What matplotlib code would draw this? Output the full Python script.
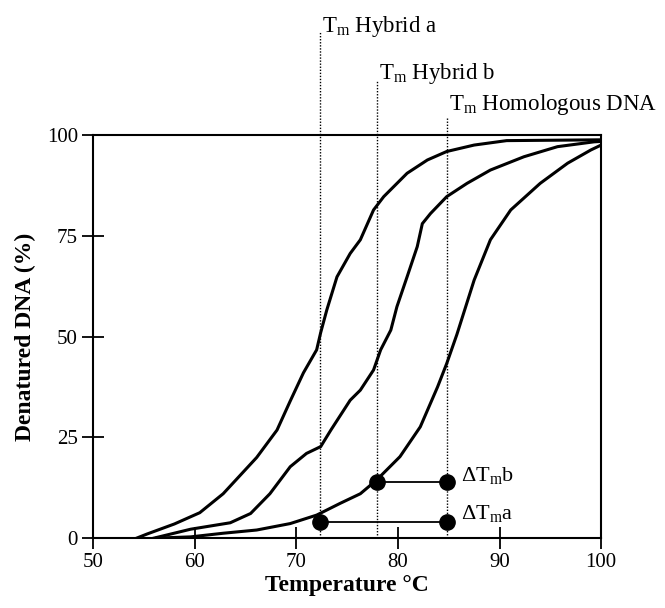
import numpy as np
import matplotlib
matplotlib.use("Agg")
import matplotlib.pyplot as plt

plt.rcParams["font.family"] = ["Liberation Serif", "DejaVu Serif"]
plt.rcParams["mathtext.fontset"] = "custom"
plt.rcParams["mathtext.rm"] = "Liberation Serif"
plt.rcParams["mathtext.it"] = "Liberation Serif:italic"

# curve data (temperature in C, denatured DNA in %)
hyb_a_x = [54.3, 55.3, 58.0, 60.5, 62.8, 66.1, 68.1, 69.4, 70.7, 72.0, 72.4,
           73.0, 74.0, 75.3, 76.3, 77.6, 78.6, 80.9, 82.9, 84.8, 87.5, 90.7, 100.0]
hyb_a_y = [0.0, 1.0, 3.5, 6.3, 11.0, 20.0, 26.8, 34.0, 41.0, 46.7, 51.0,
           56.6, 64.8, 70.6, 74.0, 81.4, 84.7, 90.5, 93.8, 95.9, 97.5, 98.6, 98.8]

hyb_b_x = [56.0, 59.6, 63.5, 65.5, 67.4, 69.4, 71.0, 72.4, 73.4, 75.3, 76.3,
           77.6, 78.3, 79.3, 79.9, 80.9, 81.9, 82.4, 83.2, 84.8, 86.8, 89.1,
           92.4, 95.7, 99.3, 100.0]
hyb_b_y = [0.0, 2.2, 3.8, 6.1, 11.0, 17.7, 21.0, 22.7, 26.8, 34.2, 36.7,
           41.7, 46.7, 51.6, 57.4, 64.8, 72.3, 78.0, 80.5, 84.7, 88.0, 91.3,
           94.6, 97.1, 98.3, 98.4]

homo_x = [56.3, 59.6, 62.8, 66.1, 69.4, 72.0, 74.3, 76.3, 77.9, 80.2, 82.2,
          83.9, 84.8, 85.8, 87.5, 89.1, 91.1, 94.0, 96.7, 99.0, 100.0]
homo_y = [0.0, 0.3, 1.2, 2.0, 3.6, 5.7, 8.6, 11.0, 14.4, 20.2, 27.6,
          37.5, 43.3, 50.5, 64.0, 74.0, 81.4, 88.0, 93.0, 96.3, 97.5]

# melting temperatures and delta Tm markers
tm_a = 72.3
tm_b = 77.9
tm_homo = 84.8
tm_labels = ["T$_\\mathrm{m}$ Hybrid a", "T$_\\mathrm{m}$ Hybrid b",
             "T$_\\mathrm{m}$ Homologous DNA"]
delta_a_y = 4
delta_b_y = 14

fig = plt.figure(figsize=(6.65, 6.08), dpi=100)
ax = fig.add_axes([0.14, 0.115, 0.764, 0.663])

for xs, ys in [(hyb_a_x, hyb_a_y), (hyb_b_x, hyb_b_y), (homo_x, homo_y)]:
    ax.plot(xs, ys, color="black", lw=2.2, solid_joinstyle="miter")

# dotted Tm lines reaching above the frame
line_tops = [125.6, 113.6, 104.5]
text_base = [125.6, 113.9, 106.2]
for tm, top, tb, lab in zip([tm_a, tm_b, tm_homo], line_tops, text_base, tm_labels):
    ax.plot([tm, tm], [0, top], color="black", lw=1.0, ls=(0, (1, 1.2)),
            clip_on=False)
    ax.text(tm + 0.2, tb, lab, fontsize=16.5, va="baseline", ha="left",
            clip_on=False)

# delta Tm bars
ax.plot([tm_b, tm_homo], [delta_b_y, delta_b_y], color="black", lw=1.3)
ax.plot([tm_a, tm_homo], [delta_a_y, delta_a_y], color="black", lw=1.3)
ax.plot([tm_b, tm_homo], [delta_b_y, delta_b_y], "o", color="black", ms=11)
ax.plot([tm_a, tm_homo], [delta_a_y, delta_a_y], "o", color="black", ms=11)
ax.text(86.2, delta_b_y + 1.5, "$\\Delta$T$_\\mathrm{m}$b", fontsize=16,
        va="center", ha="left")
ax.text(86.2, delta_a_y + 2.0, "$\\Delta$T$_\\mathrm{m}$a", fontsize=16,
        va="center", ha="left")

ax.set_xlim(50, 100)
ax.set_ylim(0, 100)
ax.set_xticks([50, 60, 70, 80, 90, 100])
ax.set_yticks([0, 25, 50, 75, 100])
ax.tick_params(direction="inout", length=16, width=1.3, labelsize=15)
ax.tick_params(axis="y", pad=3)
ax.tick_params(axis="x", pad=3)
for sp in ax.spines.values():
    sp.set_linewidth(1.5)

ax.set_xlabel("Temperature °C", fontsize=17, fontweight="bold", labelpad=2)
ax.set_ylabel("Denatured DNA (%)", fontsize=17, fontweight="bold", labelpad=8)

fig.savefig("out.png", dpi=100)
